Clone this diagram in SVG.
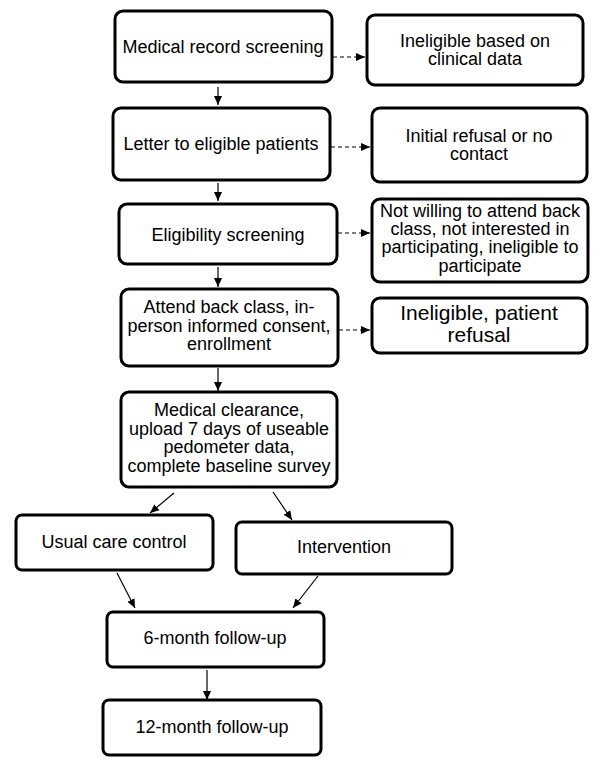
<svg xmlns="http://www.w3.org/2000/svg" width="600" height="767" viewBox="0 0 600 767">
<style>
.box{fill:#fff;stroke:#000;stroke-width:3}
text{font-family:"Liberation Sans",Arial,sans-serif;font-size:18px;fill:#000;text-anchor:middle}
.big{font-size:21px}
.c{fill:none;stroke:#000;stroke-width:1.2}
.d{stroke-dasharray:4 3}
</style>
<defs>
<marker id="ah" markerWidth="10" markerHeight="10" refX="9" refY="5" orient="auto" markerUnits="userSpaceOnUse">
<path d="M0,1 L9,5 L0,9 Z" fill="#000"/>
</marker>
</defs>
<rect width="600" height="767" fill="#fff"/>
<g id="connectors">
<line class="c" x1="218" y1="87" x2="218" y2="105" marker-end="url(#ah)"/>
<line class="c" x1="218" y1="183" x2="218" y2="201" marker-end="url(#ah)"/>
<line class="c" x1="218" y1="267" x2="218" y2="287" marker-end="url(#ah)"/>
<line class="c" x1="218" y1="368" x2="218" y2="391" marker-end="url(#ah)"/>
<line class="c d" x1="333" y1="57" x2="365" y2="57" marker-end="url(#ah)"/>
<line class="c d" x1="331" y1="147" x2="370" y2="147" marker-end="url(#ah)"/>
<line class="c d" x1="338" y1="233" x2="370" y2="233" marker-end="url(#ah)"/>
<line class="c d" x1="339" y1="330" x2="370" y2="330" marker-end="url(#ah)"/>
<line class="c" x1="174" y1="493" x2="150" y2="513" marker-end="url(#ah)"/>
<line class="c" x1="273" y1="492" x2="292" y2="520" marker-end="url(#ah)"/>
<line class="c" x1="117" y1="573" x2="135" y2="608" marker-end="url(#ah)"/>
<line class="c" x1="318" y1="576" x2="293" y2="608" marker-end="url(#ah)"/>
<line class="c" x1="207" y1="670" x2="207" y2="700" marker-end="url(#ah)"/>
</g>
<g id="n1"><rect class="box" x="115" y="11" width="217" height="71" rx="8"/><text x="223" y="53">Medical record screening</text></g>
<g id="n2"><rect class="box" x="113" y="108" width="217" height="72" rx="8"/><text x="221" y="150">Letter to eligible patients</text></g>
<g id="n3"><rect class="box" x="119" y="204" width="218" height="60" rx="8"/><text x="228" y="241">Eligibility screening</text></g>
<g id="n4"><rect class="box" x="121" y="289" width="217" height="77" rx="8"/><text x="229" y="313">Attend back class, in-</text><text x="229" y="331.5">person informed consent,</text><text x="229" y="350">enrollment</text></g>
<g id="n5"><rect class="box" x="121" y="392" width="216" height="95" rx="8"/><text x="229" y="416">Medical clearance,</text><text x="229" y="434.5">upload 7 days of useable</text><text x="229" y="453">pedometer data,</text><text x="229" y="471.5">complete baseline survey</text></g>
<g id="r1"><rect class="box" x="367" y="15" width="216" height="70" rx="8"/><text x="475" y="47">Ineligible based on</text><text x="475" y="65">clinical data</text></g>
<g id="r2"><rect class="box" x="372" y="108" width="215" height="74" rx="8"/><text x="479" y="142">Initial refusal or no</text><text x="479" y="160">contact</text></g>
<g id="r3"><rect class="box" x="372" y="199" width="216" height="83" rx="8"/><text x="480" y="217">Not willing to attend back</text><text x="480" y="235">class, not interested in</text><text x="480" y="253">participating, ineligible to</text><text x="480" y="272">participate</text></g>
<g id="r4"><rect class="box" x="372" y="298" width="215" height="55" rx="8"/><text class="big" x="479" y="320">Ineligible, patient</text><text class="big" x="479" y="342">refusal</text></g>
<g id="n6"><rect class="box" x="16" y="515" width="197" height="55" rx="6"/><text x="114" y="548">Usual care control</text></g>
<g id="n7"><rect class="box" x="236" y="522" width="216" height="52" rx="6"/><text x="344" y="553">Intervention</text></g>
<g id="n8"><rect class="box" x="107" y="612" width="217" height="55" rx="6"/><text x="215" y="644">6-month follow-up</text></g>
<g id="n9"><rect class="box" x="103" y="700" width="218" height="55" rx="6"/><text x="212" y="733">12-month follow-up</text></g>
</svg>
